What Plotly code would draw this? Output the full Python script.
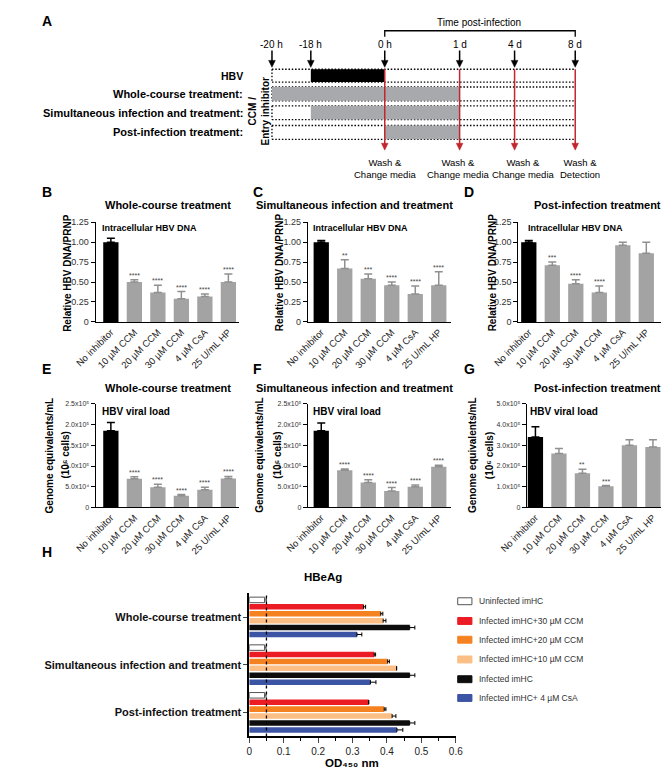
import plotly.graph_objects as go

FIG_W, FIG_H = 669, 768
FONT = "Liberation Sans, Arial, Helvetica, sans-serif"

# ----------------------------- data -----------------------------
CATEGORIES = ["No inhibitor", "10 µM CCM", "20 µM CCM", "30 µM CCM", "4 µM CsA", "25 U/mL HP"]

B_DNA_WHOLE = [1.00, 0.50, 0.37, 0.29, 0.32, 0.50]
B_DNA_WHOLE_ERR = [0.05, 0.03, 0.09, 0.09, 0.03, 0.10]
B_STARS = ["", "****", "****", "****", "****", "****"]

C_DNA_SIMUL = [1.00, 0.67, 0.54, 0.46, 0.35, 0.46]
C_DNA_SIMUL_ERR = [0.02, 0.11, 0.06, 0.04, 0.10, 0.17]
C_STARS = ["", "**", "***", "****", "****", "****"]

D_DNA_POST = [1.00, 0.71, 0.48, 0.37, 0.96, 0.86]
D_DNA_POST_ERR = [0.02, 0.04, 0.05, 0.08, 0.04, 0.14]
D_STARS = ["", "***", "****", "****", "", ""]

E_LOAD_WHOLE = [1.85e5, 0.69e5, 0.49e5, 0.28e5, 0.43e5, 0.70e5]
E_LOAD_WHOLE_ERR = [0.20e5, 0.05e5, 0.07e5, 0.03e5, 0.06e5, 0.05e5]
E_STARS = ["", "****", "****", "****", "****", "****"]

F_LOAD_SIMUL = [1.85e5, 0.90e5, 0.60e5, 0.40e5, 0.50e5, 0.98e5]
F_LOAD_SIMUL_ERR = [0.19e5, 0.03e5, 0.07e5, 0.08e5, 0.04e5, 0.04e5]
F_STARS = ["", "****", "****", "****", "****", "****"]

G_LOAD_POST = [3.40e5, 2.60e5, 1.65e5, 1.02e5, 3.00e5, 2.92e5]
G_LOAD_POST_ERR = [0.50e5, 0.25e5, 0.20e5, 0.04e5, 0.27e5, 0.35e5]
G_STARS = ["", "", "**", "***", "", ""]

DNA_TICKS = [0, 0.25, 0.5, 0.75, 1.0, 1.25]
DNA_TICKTEXT = ["0", "0.25", "0.50", "0.75", "1.00", "1.25"]
LOAD_TICKS_25 = [0, 0.5e5, 1.0e5, 1.5e5, 2.0e5, 2.5e5]
LOAD_TICKTEXT_25 = ["0", "5.0x10⁴", "1.0x10⁵", "1.5x10⁵", "2.0x10⁵", "2.5x10⁵"]
LOAD_TICKS_50 = [0, 1e5, 2e5, 3e5, 4e5, 5e5]
LOAD_TICKTEXT_50 = ["0", "1.0x10⁵", "2.0x10⁵", "3.0x10⁵", "4.0x10⁵", "5.0x10⁵"]

H_GROUPS = ["Whole-course treatment", "Simultaneous infection and treatment", "Post-infection treatment"]
H_SERIES = ["Uninfected imHC", "Infected imHC+30 µM CCM", "Infected imHC+20 µM CCM",
            "Infected imHC+10 µM CCM", "Infected imHC", "Infected imHC+ 4 µM CsA"]
H_UNINFECTED = [0.045, 0.045, 0.045]
H_UNINFECTED_ERR = [0.005, 0.004, 0.004]
H_CCM30 = [0.332, 0.363, 0.347]
H_CCM30_ERR = [0.006, 0.004, 0.0]
H_CCM20 = [0.382, 0.402, 0.392]
H_CCM20_ERR = [0.006, 0.005, 0.005]
H_CCM10 = [0.389, 0.428, 0.415]
H_CCM10_ERR = [0.008, 0.0, 0.011]
H_INFECTED = [0.466, 0.466, 0.466]
H_INFECTED_ERR = [0.015, 0.015, 0.015]
H_CSA = [0.313, 0.352, 0.429]
H_CSA_ERR = [0.014, 0.016, 0.017]
H_CUTOFF = 0.05
H_TICKS = [0, 0.1, 0.2, 0.3, 0.4, 0.5, 0.6]

TIMELINE_LABELS = ["-20 h", "-18 h", "0 h", "1 d", "4 d", "8 d"]
TREATMENT_ROWS = ["HBV", "Whole-course treatment:", "Simultaneous infection and treatment:",
                  "Post-infection treatment:"]
TREATMENT_SPAN = [(1, 2), (0, 3), (1, 3), (2, 3)]  # indices into the timeline
WASH_AT = [2, 3, 4, 5]
WASH_LABELS = ["Wash &<br>Change media", "Wash &<br>Change media", "Wash &<br>Change media",
               "Wash &<br>Detection"]

# --------------------------- layout / style ---------------------------
TIMELINE_X = [249, 290, 368, 447, 505, 569]
ROW_Y = [(57, 70), (75, 89), (94, 108), (114, 128)]
ROW_COLORS = ["black", "#a7a9ac", "#a7a9ac", "#a7a9ac"]
WASH_TEXT_X = [369, 446, 514, 574]
GRAY_BAR = "#a3a3a3"
GRAY_ERR = "#909090"
RED = "#c1272d"
H_COLORS = ["white", "#ec1c24", "#f58220", "#fbbf85", "#0d0d0d", "#3b54a4"]
LEGEND_Y = [596, 616, 635, 655, 675, 694]
DOTS = "1.5px,1.8px"

fig = go.Figure()
annotations = []
shapes = []
axes = {}


def px(x):
    return x / FIG_W


def py(y):
    return 1 - y / FIG_H


def ann(x, y, text, size=10, color="black", xanchor="center", yanchor="middle", angle=0):
    annotations.append(dict(x=px(x), y=py(y), xref="paper", yref="paper", text=text,
                            showarrow=False, textangle=angle,
                            font=dict(family=FONT, size=size, color=color),
                            xanchor=xanchor, yanchor=yanchor))


def line(x0, y0, x1, y1, color="black", width=1, dash="solid"):
    shapes.append(dict(type="line", xref="paper", yref="paper", x0=px(x0), y0=py(y0),
                       x1=px(x1), y1=py(y1), line=dict(color=color, width=width, dash=dash)))


def rect(x0, y0, x1, y1, fill, lc=None, lw=0):
    shapes.append(dict(type="rect", xref="paper", yref="paper", x0=px(x0), y0=py(y0),
                       x1=px(x1), y1=py(y1), fillcolor=fill,
                       line=dict(color=lc or fill, width=lw)))


def down_arrow(x, y_tip, y_tail, color, width, head_w=3.5, head_h=7):
    line(x, y_tail, x, y_tip - head_h + 1, color=color, width=width)
    shapes.append(dict(type="path", xref="paper", yref="paper",
                       path=f"M {px(x - head_w)},{py(y_tip - head_h)} L {px(x + head_w)},{py(y_tip - head_h)} "
                            f"L {px(x)},{py(y_tip)} Z",
                       fillcolor=color, line=dict(color=color, width=0.5)))


# ------------------------------ panel A ------------------------------
ann(4, 8, "<b>A</b>", size=14, xanchor="left")
ann(467, 10, "Time post-infection", size=10)
shapes.append(dict(type="path", xref="paper", yref="paper",
                   path=f"M {px(TIMELINE_X[2])},{py(24)} L {px(TIMELINE_X[2])},{py(18)} "
                        f"L {px(TIMELINE_X[5])},{py(18)} L {px(TIMELINE_X[5])},{py(24)}",
                   line=dict(color="black", width=1.3)))
for lab, xx in zip(TIMELINE_LABELS, TIMELINE_X):
    ann(xx, 32, lab, size=10)
    down_arrow(xx, 55, 38, "black", 1.5)

x_left, x_right = TIMELINE_X[0], TIMELINE_X[5]
for (y0, y1) in ROW_Y:
    line(x_left, y0, x_right, y0, dash=DOTS, width=1.3)
    line(x_left, y1, x_right, y1, dash=DOTS, width=1.3)
    line(x_left, y0, x_left, y1, dash=DOTS, width=1.3)
for (i0, i1), (y0, y1), col, lab in zip(TREATMENT_SPAN, ROW_Y, ROW_COLORS, TREATMENT_ROWS):
    rect(TIMELINE_X[i0], y0, TIMELINE_X[i1], y1, col)
    ann(221, (y0 + y1) / 2, f"<b>{lab}</b>", size=11 if lab != "HBV" else 10.5, xanchor="right")
ann(235, 100, "<b>CCM /<br>Entry inhibitor</b>", size=10, angle=-90)
for i, lab, tx in zip(WASH_AT, WASH_LABELS, WASH_TEXT_X):
    down_arrow(TIMELINE_X[i], 139, 57, RED, 1.5)
    ann(tx, 157.5, lab, size=9.5)

# --------------------------- bar panels B-G ---------------------------
PPU = 24.8
PANEL_W = 151


def bar_panel(n, values, errors, stars, axis_x, first_center, y_top, y_bot, y_max,
              tickvals, ticktext, tick_size):
    xa = "x" if n == 1 else f"x{n}"
    ya = "y" if n == 1 else f"y{n}"
    r0 = -(first_center - axis_x) / PPU
    axes["xaxis" if n == 1 else f"xaxis{n}"] = dict(
        domain=[px(axis_x), px(axis_x + PANEL_W)], range=[r0, r0 + PANEL_W / PPU], anchor=ya,
        type="category", categoryorder="array", categoryarray=CATEGORIES,
        showline=True, linecolor="black", linewidth=1.2, ticks="", tickangle=-45,
        tickfont=dict(family=FONT, size=9.5, color="#222"), showgrid=False, zeroline=False)
    axes["yaxis" if n == 1 else f"yaxis{n}"] = dict(
        domain=[py(y_bot), py(y_top)], range=[0, y_max], anchor=xa, showline=True,
        linecolor="black", linewidth=1.2, ticks="outside", ticklen=4, tickwidth=1,
        tickcolor="black", tickvals=tickvals, ticktext=ticktext,
        tickfont=dict(family=FONT, size=tick_size, color="#333"), showgrid=False, zeroline=False)
    fig.add_trace(go.Bar(
        x=CATEGORIES[:1], y=values[:1], width=0.65, offsetgroup="g", xaxis=xa, yaxis=ya,
        marker=dict(color="black", line=dict(width=0)), showlegend=False,
        error_y=dict(type="data", array=errors[:1], arrayminus=[0], symmetric=False,
                     color="black", thickness=1.5, width=4)))
    fig.add_trace(go.Bar(
        x=CATEGORIES[1:], y=values[1:], width=0.65, offsetgroup="g", xaxis=xa, yaxis=ya,
        marker=dict(color=GRAY_BAR, line=dict(width=0)), showlegend=False,
        error_y=dict(type="data", array=errors[1:], arrayminus=[0] * 5, symmetric=False,
                     color=GRAY_ERR, thickness=1.5, width=4)))
    for cat, v, e, s in zip(CATEGORIES, values, errors, stars):
        if s:
            annotations.append(dict(x=cat, y=v + e, xref=xa, yref=ya, text=s, showarrow=False,
                                    yanchor="bottom", yshift=-1,
                                    font=dict(family=FONT, size=7, color="#444")))


# panel labels, titles
for lab, xx, yy in [("B", 4, 181), ("C", 227, 181), ("D", 450, 181),
                    ("E", 4, 361), ("F", 227, 361), ("G", 450, 361), ("H", 4, 546)]:
    ann(xx, yy, f"<b>{lab}</b>", size=14, xanchor="left")
for title, xx in [("Whole-course treatment", 139), ("Simultaneous infection and treatment", 336),
                  ("Post-infection treatment", 592)]:
    ann(xx, 195, f"<b>{title}</b>", size=11)
    ann(xx, 380, f"<b>{title}</b>", size=11)

bar_panel(1, B_DNA_WHOLE, B_DNA_WHOLE_ERR, B_STARS, 63, 79, 212, 313, 1.25, DNA_TICKS, DNA_TICKTEXT, 9)
bar_panel(2, C_DNA_SIMUL, C_DNA_SIMUL_ERR, C_STARS, 287, 301, 212, 313, 1.25, DNA_TICKS, DNA_TICKTEXT, 9)
bar_panel(3, D_DNA_POST, D_DNA_POST_ERR, D_STARS, 509, 520, 212, 313, 1.25, DNA_TICKS, DNA_TICKTEXT, 9)
bar_panel(4, E_LOAD_WHOLE, E_LOAD_WHOLE_ERR, E_STARS, 63, 79, 396, 501, 2.5e5, LOAD_TICKS_25, LOAD_TICKTEXT_25, 7)
bar_panel(5, F_LOAD_SIMUL, F_LOAD_SIMUL_ERR, F_STARS, 287, 301, 396, 501, 2.5e5, LOAD_TICKS_25, LOAD_TICKTEXT_25, 7)
bar_panel(6, G_LOAD_POST, G_LOAD_POST_ERR, G_STARS, 518, 527, 396, 501, 5e5, LOAD_TICKS_50, LOAD_TICKTEXT_50, 7)

for xx in (33, 257, 482):
    ann(xx, 263, "<b>Relative HBV DNA/PRNP</b>", size=10, angle=-90)
for xx in (68, 290, 517):
    ann(xx, 218, "<b>Intracellular HBV DNA</b>", size=9, xanchor="left")
for xx in (68, 290, 519):
    ann(xx, 404, "<b>HBV viral load</b>", size=10, xanchor="left")
for x1, x2 in ((14, 31), (235, 255), (460, 478)):
    ann(x1, 448, "<b>Genome equivalents/mL</b>", size=10, angle=-90)
    ann(x2, 448, "<b>(10⁶ cells)</b>", size=10, angle=-90)

# ------------------------------ panel H ------------------------------
H_VALUES = [H_UNINFECTED, H_CCM30, H_CCM20, H_CCM10, H_INFECTED, H_CSA]
H_ERRORS = [H_UNINFECTED_ERR, H_CCM30_ERR, H_CCM20_ERR, H_CCM10_ERR, H_INFECTED_ERR, H_CSA_ERR]
for name, vals, errs, col in zip(H_SERIES, H_VALUES, H_ERRORS, H_COLORS):
    edge = "#555555" if col == "white" else col
    fig.add_trace(go.Bar(
        y=H_GROUPS, x=vals, orientation="h", name=name, xaxis="x7", yaxis="y7",
        marker=dict(color=col, line=dict(color=edge, width=1 if col == "white" else 0)),
        showlegend=False,
        error_x=dict(type="data", array=errs, arrayminus=[0] * len(errs), symmetric=False,
                     color="#555555" if col == "white" else "black", thickness=1, width=2)))

axes["xaxis7"] = dict(domain=[px(225), px(443)], range=[0, 0.6], anchor="y7", showline=True,
                      linecolor="black", linewidth=1.5, ticks="outside", ticklen=5,
                      tickvals=H_TICKS, ticktext=[f"{t:g}" for t in H_TICKS],
                      tickfont=dict(family=FONT, size=10, color="#222"),
                      minor=dict(dtick=0.05, ticks="outside", ticklen=3, tickcolor="black"),
                      showgrid=False, zeroline=False)
axes["yaxis7"] = dict(domain=[py(733), py(588)], range=[2.5, -0.5], anchor="x7", type="category",
                      categoryorder="array", categoryarray=H_GROUPS, showline=True,
                      linecolor="black", linewidth=1.5, ticks="outside", ticklen=4,
                      tickfont=dict(family=FONT, size=11, color="#111", weight="bold"),
                      showgrid=False, zeroline=False)
shapes.append(dict(type="line", xref="x7", yref="y7 domain", x0=H_CUTOFF, x1=H_CUTOFF, y0=0, y1=1,
                   line=dict(color="black", width=1.3, dash="dot")))
ann(303, 571, "<b>HBeAg</b>", size=11.5)
ann(333, 760, "<b>OD₄₅₀ nm</b>", size=11.5)
for name, col, yy in zip(H_SERIES, H_COLORS, LEGEND_Y):
    rect(445, yy - 3.5, 460, yy + 3.5, col, lc="#555555" if col == "white" else col, lw=1)
    ann(465, yy, name, size=8.5, color="#333", xanchor="left")

fig.update_layout(
    width=FIG_W, height=FIG_H, autosize=False, margin=dict(l=0, r=0, t=0, b=0),
    paper_bgcolor="white", plot_bgcolor="white", barmode="group", bargap=0.13,
    bargroupgap=0.2, showlegend=False, font=dict(family=FONT, color="black"),
    annotations=annotations, shapes=shapes, **axes)

fig.write_html("out.html", config={"displayModeBar": False})
